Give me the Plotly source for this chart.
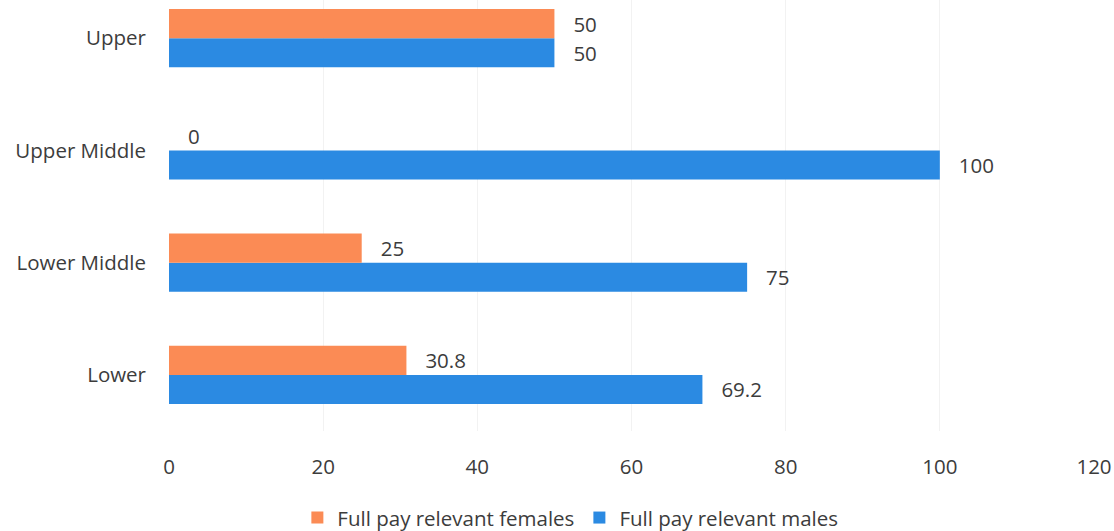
import plotly.graph_objects as go

categories = ["Lower", "Lower Middle", "Upper Middle", "Upper"]
females = [30.8, 25, 0, 50]
males = [69.2, 75, 100, 50]
x_ticks = [0, 20, 40, 60, 80, 100, 120]

FONT = "Open Sans"
TXT = "#3c3c3c"
FS = 20.5

fig = go.Figure()
fig.add_trace(go.Bar(
    y=categories, x=males, orientation="h", name="Full pay relevant males",
    marker=dict(color="#2B8AE2", line=dict(width=0)),
    text=[f"{v:g}" for v in males], texttemplate="   %{text}",
    textposition="outside", textfont=dict(size=FS, color=TXT, family=FONT),
    cliponaxis=False, legendrank=2,
))
fig.add_trace(go.Bar(
    y=categories, x=females, orientation="h", name="Full pay relevant females",
    marker=dict(color="#FB8B55", line=dict(width=0)),
    text=[f"{v:g}" for v in females], texttemplate="   %{text}",
    textposition="outside", textfont=dict(size=FS, color=TXT, family=FONT),
    cliponaxis=False, legendrank=1,
))

fig.update_layout(
    width=1114, height=531,
    margin=dict(l=169, r=20, t=0, b=100),
    paper_bgcolor="white", plot_bgcolor="white",
    barmode="group", bargap=0.48, bargroupgap=0,
    font=dict(family=FONT, size=FS, color=TXT),
    showlegend=True,
    legend=dict(orientation="h", x=0.512, xanchor="center", xref="container",
                y=0.025, yanchor="middle", yref="container",
                font=dict(size=FS, color=TXT, family=FONT),
                traceorder="normal", itemwidth=30),
    xaxis=dict(range=[0, 120], tickvals=x_ticks, showgrid=True,
               gridcolor="#f2f2f2", zeroline=False, showline=False,
               ticks="", ticklabelstandoff=21,
               tickfont=dict(size=FS, color=TXT, family=FONT)),
    yaxis=dict(categoryorder="array", categoryarray=categories,
               range=[-0.5, 3.34], showgrid=False, zeroline=False,
               showline=False, ticks="", ticklabelstandoff=22,
               tickfont=dict(size=FS, color=TXT, family=FONT)),
)

fig.write_html("out.html")
